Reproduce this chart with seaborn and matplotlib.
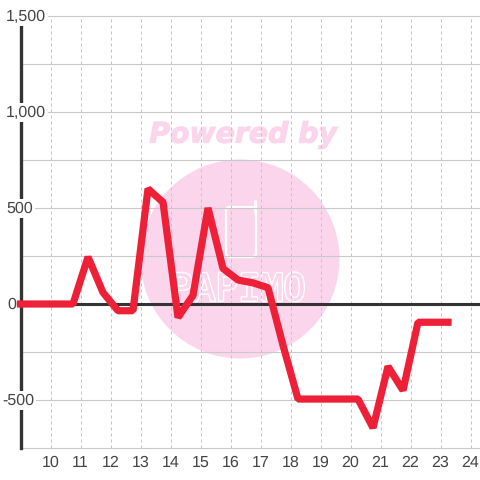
import matplotlib
matplotlib.use("Agg")
import matplotlib.pyplot as plt
import seaborn as sns
import pandas as pd
from matplotlib.patches import Circle, FancyBboxPatch
from matplotlib.lines import Line2D
from matplotlib.transforms import blended_transform_factory, IdentityTransform, Affine2D
import matplotlib.patheffects as pe

hours = [9, 9.25, 9.75, 10.25, 10.75, 11.25, 11.75, 12.25, 12.75, 13.25, 13.75, 14.25, 14.75, 15.25,
         15.75, 16.25, 16.75, 17.25, 17.75, 18.25, 18.75, 19.25, 19.75, 20.25, 20.75, 21.25, 21.75,
         22.25, 22.75, 23.25]
values = [0, 0, 0, 0, 0, 245, 60, -35, -35, 600, 530, -70, 45, 500,
          185, 125, 110, 85, -215, -495, -495, -495, -495, -495, -645, -325, -450,
          -95, -95, -95]
x_ticks = list(range(10, 25))
y_major = [1500, 1000, 500, 0, -500]
y_labels = ["1,500", "1,000", "500", "0", "-500"]
y_grid = [1500, 1250, 1000, 750, 500, 250, -250, -500, -750]
label_left_px = [6, 6, 6, 7, 2]

sns.set_theme(style="white")
plt.rcParams["font.family"] = ["Liberation Sans", "DejaVu Sans"]
plt.rcParams["text.hinting"] = "no_hinting"
plt.rcParams["text.hinting_factor"] = 1

W = H = 480
fig = plt.figure(figsize=(4.8, 4.8), dpi=100, facecolor="white")
ax = fig.add_axes([20.5 / W, 1 - 448 / H, (W - 20.5) / W, (448 - 16) / H])
ax.set_zorder(5)
ax.set_facecolor("none")
ax.set_xlim(9, 9 + (W - 20.5) / 30)
ax.set_ylim(-750, 1500)

px = lambda x, y: (x, H - y)
PINK = "#fbd5ec"
ID = IdentityTransform()
# watermark, in pixel space
fig.add_artist(Circle(px(240, 259), 99.5, transform=ID, fc=PINK, ec="none", zorder=0))
fig.add_artist(FancyBboxPatch(px(226, 257), 30, 50, boxstyle="round,pad=0,rounding_size=4",
                              transform=ID, fc="none", ec="white", lw=1.6, zorder=1))
fig.add_artist(Line2D([255, 255], [H - 201, H - 212], transform=ID, color="white", lw=2.2,
                      solid_capstyle="round", zorder=1))
fig.text(242 / W, 1 - 135 / H, "Powered by", color=PINK, fontsize=20.4, fontweight="bold", style="italic",
         family="DejaVu Sans", ha="center", va="center", zorder=1,
         path_effects=[pe.withStroke(linewidth=0.8, foreground=PINK)])
fig.text(239 / W, 1 - 290 / H, "PAPIMO", color=PINK, fontsize=27, ha="center", va="center", zorder=1,
         family="DejaVu Sans Mono", path_effects=[pe.withStroke(linewidth=2.0, foreground="white")])

for v in y_grid:
    ax.axhline(v, color="#c9c9c9", lw=0.8, zorder=1, clip_on=False)
for x in x_ticks:
    ax.axvline(x, color="#c4c4c4", lw=0.72, ls=(0, (3, 3)), zorder=1)
ax.axhline(0, color="#333333", lw=2.2, zorder=2)

df = pd.DataFrame({"hour": hours, "value": values})
sns.lineplot(data=df, x="hour", y="value", ax=ax, color="#ee2038", linewidth=5.2, zorder=5,
             errorbar=None, solid_joinstyle="bevel", solid_capstyle="projecting", clip_on=False)

for s in ["top", "right", "bottom"]:
    ax.spines[s].set_visible(False)
ax.spines["left"].set_color("#333333")
ax.spines["left"].set_linewidth(2.4)
ax.spines["left"].set_zorder(2.5)

ax.set_xlabel("")
ax.set_ylabel("")
ax.set_xticks(x_ticks)
ax.set_yticks([])
ax.tick_params(axis="x", length=0, pad=5, labelsize=11.5, labelcolor="#444444")

tr = blended_transform_factory(ID, ax.transData) + Affine2D().translate(0, -0.5)
for v, lab, left in zip(y_major, y_labels, label_left_px):
    ax.text(left, v, lab, transform=tr, ha="left", va="center", fontsize=11.2, color="#444444", zorder=3,
            clip_on=False, bbox=dict(fc="white", ec="none", pad=1.5))

fig.savefig("out.png", dpi=100)
